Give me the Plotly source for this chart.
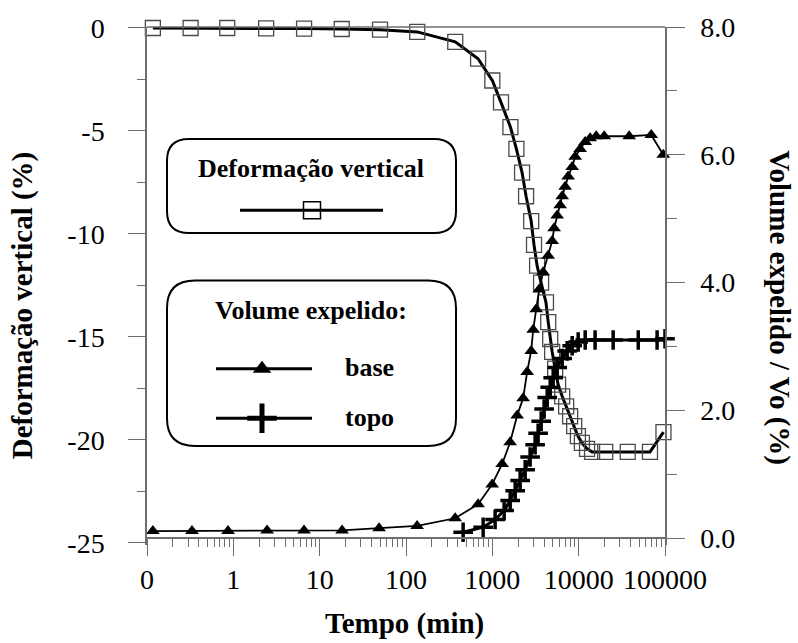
import plotly.graph_objects as go

# ---------------- data ----------------
# Deformação vertical (%) – left axis
t_def = [0.117, 0.32, 0.85, 2.4, 6.6, 18, 50, 135, 372, 684, 1000, 1260, 1620, 1900,
         2210, 2460, 2820, 3040, 3300, 3670, 4180, 4440, 4680, 4930, 5340, 5780, 6440,
         7160, 7960, 8870, 9800, 10900, 12500, 14300, 20300, 37000, 67000, 96000]
def_vert = [0.0, 0.0, 0.0, -0.02, -0.03, -0.05, -0.08, -0.19, -0.67, -1.49, -2.55, -3.61,
            -4.81, -5.87, -7.02, -8.17, -9.38, -10.53, -11.54, -12.36, -13.32, -14.28,
            -15.1, -15.72, -16.54, -17.31, -17.88, -18.37, -18.85, -19.33, -19.81, -20.14,
            -20.43, -20.58, -20.58, -20.58, -20.58, -19.62]

# Volume expelido / Vo (%) – base (right axis)
t_base = [0.117, 0.332, 0.868, 2.46, 6.59, 18.2, 48.8, 134.5, 371, 684, 995, 1299, 1608,
          1939, 2275, 2531, 2818, 2972, 3221, 3486, 3879, 4433, 4931, 5200, 5636, 6108,
          6442, 6977, 7556, 8406, 9108, 10408, 11890, 13590, 15970, 19770, 38500, 69300,
          95500]
vol_base = [0.11, 0.11, 0.11, 0.12, 0.12, 0.12, 0.155, 0.19, 0.31, 0.53, 0.84, 1.16, 1.5,
            1.92, 2.19, 2.6, 2.93, 3.26, 3.58, 3.89, 4.16, 4.42, 4.65, 4.85, 5.05, 5.21,
            5.35, 5.5, 5.66, 5.81, 5.97, 6.09, 6.2, 6.26, 6.29, 6.29, 6.29, 6.31, 6.0]

# Volume expelido / Vo (%) – topo (right axis)
t_topo = [459, 783, 1077, 1370, 1610, 1840, 2100, 2400, 2740, 3130, 3390, 3680, 3980,
          4320, 4680, 5070, 5640, 6440, 7360, 8410, 9870, 11900, 15500, 25100, 49000,
          81000, 100000]
vol_topo = [0.09, 0.17, 0.29, 0.43, 0.59, 0.74, 0.9, 1.07, 1.27, 1.46, 1.64, 1.83, 2.02,
            2.2, 2.36, 2.51, 2.67, 2.81, 2.93, 3.01, 3.07, 3.1, 3.1, 3.1, 3.1, 3.1, 3.12]

# ticks
x_tickvals = [0.1, 1, 10, 100, 1000, 10000, 100000]
x_ticktext = ["0", "1", "10", "100", "1000", "10000", "100000"]
x_minor = [m * 10 ** e for e in range(-1, 5) for m in range(2, 10)]
y_tickvals = [-25, -20, -15, -10, -5, 0]
y_ticktext = ["-25", "-20", "-15", "-10", "-5", "0"]
y_minor = [-22.5, -17.5, -12.5, -7.5, -2.5]
y2_tickvals = [0, 2, 4, 6, 8]
y2_ticktext = ["0.0", "2.0", "4.0", "6.0", "8.0"]
y2_minor = [1, 3, 5, 7]

# ---------------- style ----------------
FONT = "Liberation Serif, Times New Roman, serif"
AX = "#6e6e6e"
W, H = 798, 643
L, R, T, B = 147, 665, 22, 545   # plot area in pixels


def px(xp):
    return (xp - L) / (R - L)


def py(yp):
    return (B - yp) / (B - T)


fig = go.Figure()

fig.add_trace(go.Scatter(
    x=t_base, y=vol_base, yaxis="y2", mode="lines+markers",
    line=dict(color="black", width=1.8),
    marker=dict(symbol="triangle-up", size=12, color="black"),
    showlegend=False, cliponaxis=False))
fig.add_trace(go.Scatter(
    x=t_topo, y=vol_topo, yaxis="y2", mode="lines+markers",
    line=dict(color="black", width=3),
    marker=dict(symbol="cross-thin", size=14, color="black",
                line=dict(width=3.5, color="black")),
    showlegend=False, cliponaxis=False))
fig.add_trace(go.Scatter(
    x=t_def, y=def_vert, yaxis="y", mode="lines+markers",
    line=dict(color="black", width=3),
    marker=dict(symbol="square-open", size=15, color="#4a4a4a",
                line=dict(width=1.3, color="#4a4a4a")),
    showlegend=False, cliponaxis=False))

# ---------------- custom legend (pixel overlay axes) ----------------
def rrect(x0, y0, x1, y1, r):
    return (f"M {x0+r},{y0} L {x1-r},{y0} Q {x1},{y0} {x1},{y0+r} "
            f"L {x1},{y1-r} Q {x1},{y1} {x1-r},{y1} L {x0+r},{y1} "
            f"Q {x0},{y1} {x0},{y1-r} L {x0},{y0+r} Q {x0},{y0} {x0+r},{y0} Z")

shapes = [
    dict(type="path", xref="x3", yref="y3", path=rrect(167, 135, 456, 230, 22),
         line=dict(color="black", width=2), fillcolor="white", layer="below"),
    dict(type="path", xref="x3", yref="y3", path=rrect(167, 278, 456, 445, 28),
         line=dict(color="black", width=2), fillcolor="white", layer="below"),
    dict(type="line", xref="x3", yref="y3", x0=240, x1=383, y0=207, y1=207,
         line=dict(color="black", width=3)),
    dict(type="line", xref="x3", yref="y3", x0=216, x1=312, y0=367, y1=367,
         line=dict(color="black", width=3)),
    dict(type="line", xref="x3", yref="y3", x0=216, x1=312, y0=417, y1=417,
         line=dict(color="black", width=3)),
    # top frame line
    dict(type="line", xref="paper", yref="paper", x0=0, x1=1, y0=1, y1=1,
         line=dict(color=AX, width=1.5)),
]

fig.add_trace(go.Scatter(x=[312], y=[207], xaxis="x3", yaxis="y3", mode="markers",
                         marker=dict(symbol="square", size=17, color="white",
                                     line=dict(width=1.5, color="black")),
                         showlegend=False, hoverinfo="skip"))
fig.add_trace(go.Scatter(x=[262], y=[367], xaxis="x3", yaxis="y3", mode="markers",
                         marker=dict(symbol="triangle-up", size=16, color="black"),
                         showlegend=False, hoverinfo="skip"))
fig.add_trace(go.Scatter(x=[262], y=[417], xaxis="x3", yaxis="y3", mode="markers",
                         marker=dict(symbol="cross-thin", size=21, color="black",
                                     line=dict(width=5, color="black")),
                         showlegend=False, hoverinfo="skip"))

ann_font = dict(family=FONT, size=26, color="black")
title_font = dict(family=FONT, size=29, color="black")


def label(text, x, y, font, xanchor="center", angle=0):
    return dict(text=text, x=px(x), y=py(y), xref="paper", yref="paper",
                xanchor=xanchor, yanchor="middle", textangle=angle,
                showarrow=False, font=font)


annotations = [
    label("<b>Deformação vertical</b>", 311, 165, ann_font),
    label("<b>Volume expelido:</b>", 311, 308, ann_font),
    label("<b>base</b>", 343, 366, ann_font, xanchor="left"),
    label("<b>topo</b>", 343, 416, ann_font, xanchor="left"),
    label("<b>Deformação vertical (%)</b>", 22, 303, title_font, angle=-90),
    label("<b>Volume expelido / Vo (%)</b>", 780, 306, title_font, angle=90),
    label("<b>Tempo (min)</b>", 404, 624, title_font),
]

tick_font = dict(family=FONT, size=28, color="black")
x_axis_pos = (B - 538) / (B - T)

fig.update_layout(
    width=W, height=H,
    margin=dict(l=L, r=W - R, t=T, b=H - B, pad=0),
    paper_bgcolor="white", plot_bgcolor="white",
    font=dict(family=FONT, color="black"),
    xaxis=dict(type="log", range=[-1, 5], tickvals=x_tickvals, ticktext=x_ticktext,
               ticks="outside", ticklen=17, tickwidth=1.3, tickcolor=AX,
               showline=True, linecolor=AX, linewidth=1.5, showgrid=False,
               zeroline=False, tickfont=tick_font, anchor="free",
               position=x_axis_pos,
               minor=dict(tickvals=x_minor, ticks="outside", ticklen=8,
                          tickwidth=1.3, tickcolor=AX, showgrid=False)),
    yaxis=dict(range=[-25.1, 0.048], tickvals=y_tickvals, ticktext=y_ticktext,
               ticks="outside", ticklen=17, tickwidth=1.3, tickcolor=AX,
               showline=True, linecolor=AX, linewidth=1.5, showgrid=False,
               zeroline=False, tickfont=tick_font, ticklabelstandoff=18,
               minor=dict(tickvals=y_minor, ticks="outside", ticklen=8,
                          tickwidth=1.3, tickcolor=AX, showgrid=False)),
    yaxis2=dict(range=[-0.1085, 8.0], overlaying="y", side="right", anchor="x",
                tickvals=y2_tickvals, ticktext=y2_ticktext,
                ticks="outside", ticklen=18, tickwidth=1.3, tickcolor=AX,
                showline=True, linecolor=AX, linewidth=1.5, showgrid=False,
                zeroline=False, tickfont=tick_font, ticklabelstandoff=10,
                minor=dict(tickvals=y2_minor, ticks="outside", ticklen=10,
                           tickwidth=1.3, tickcolor=AX, showgrid=False)),
    xaxis3=dict(overlaying="x", range=[L, R], visible=False, anchor="y3"),
    yaxis3=dict(overlaying="y", range=[B, T], visible=False, anchor="x3"),
    shapes=shapes,
    annotations=annotations,
)

fig.write_html("out.html")
